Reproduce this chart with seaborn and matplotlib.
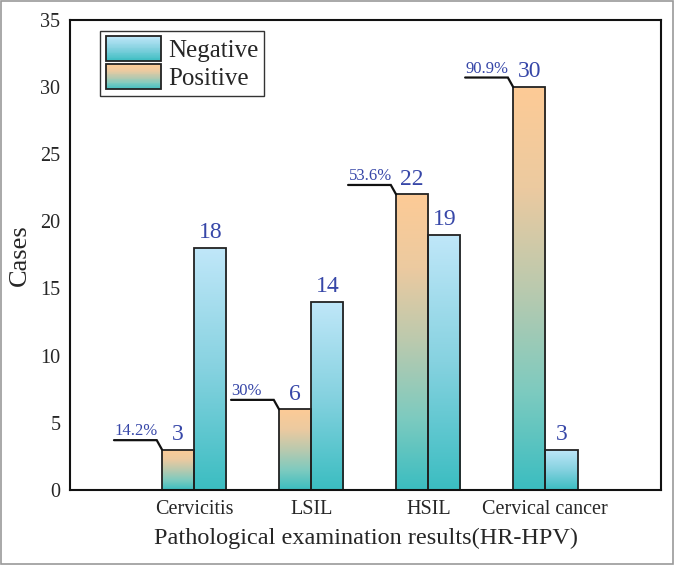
import numpy as np
import pandas as pd
import matplotlib
matplotlib.use("Agg")
import matplotlib.pyplot as plt
from matplotlib.colors import LinearSegmentedColormap
from matplotlib.legend_handler import HandlerBase
from matplotlib.patches import Rectangle
import seaborn as sns

# Data
categories = ["Cervicitis", "LSIL", "HSIL", "Cervical cancer"]
positive = [3, 6, 22, 30]
negative = [18, 14, 19, 3]
percent_labels = ["14.2%", "30%", "53.6%", "90.9%"]

df = pd.DataFrame({
    "group": categories * 2,
    "result": ["Positive"] * 4 + ["Negative"] * 4,
    "cases": positive + negative,
})

# Gradient colormaps (bottom -> top)
teal = "#3bbdc1"
pos_cmap = LinearSegmentedColormap.from_list(
    "pos", [teal, "#7fcbbf", "#bac9ae", "#eccaa0", "#fdcb96"])
neg_cmap = LinearSegmentedColormap.from_list(
    "neg", [teal, "#86d2e0", "#c0e7f9"])
cmaps = {"Positive": pos_cmap, "Negative": neg_cmap}
label_blue = "#3747a8"

sns.set_style("white")
plt.rcParams["font.family"] = ["Liberation Serif", "DejaVu Serif"]

fig = plt.figure(figsize=(6.74, 5.65), dpi=100)
ax = fig.add_axes([0.104, 0.133, 0.877, 0.832])

hue_order = ["Positive", "Negative"]
sns.barplot(data=df, x="group", y="cases", hue="result", hue_order=hue_order,
            order=categories, width=0.55, gap=0, ax=ax, legend=False,
            edgecolor="#222222", linewidth=1.3)

grad = np.linspace(0, 1, 256).reshape(-1, 1)
for level, container in zip(hue_order, ax.containers):
    for bar in container:
        x0, y0 = bar.get_x(), bar.get_y()
        w, h = bar.get_width(), bar.get_height()
        img = ax.imshow(grad, extent=[x0, x0 + w, y0, y0 + h], origin="lower",
                        aspect="auto", cmap=cmaps[level], zorder=bar.get_zorder() - 0.1)
        img.set_clip_path(bar)
        bar.set_facecolor("none")

# value labels
for container in ax.containers:
    for bar in container:
        h = bar.get_height()
        ax.text(bar.get_x() + bar.get_width() / 2, h + 0.35, f"{h:.0f}",
                ha="center", va="bottom", fontsize=17, color=label_blue)

# percentage call-outs on the positive bars
for bar, pct in zip(ax.containers[0], percent_labels):
    xl, h = bar.get_x(), bar.get_height()
    ly = h + 0.7
    ax.plot([xl - 0.41, xl - 0.045, xl], [ly, ly, h], color="#111111",
            lw=1.6, solid_joinstyle="miter", clip_on=False, zorder=5)
    ax.text(xl - 0.405, ly + 0.05, pct, ha="left", va="bottom",
            fontsize=12, color=label_blue)

ax.set_xlim(-1.06, 3.99)
ax.set_ylim(0, 35)
ax.set_yticks(range(0, 36, 5))
ax.tick_params(length=0, labelsize=14.5, pad=7)
ax.set_xlabel("Pathological examination results(HR-HPV)", fontsize=17.5, labelpad=7)
ax.set_ylabel("Cases", fontsize=19, labelpad=7)
for s in ax.spines.values():
    s.set_visible(True)
    s.set_color("#111111")
    s.set_linewidth(1.5)


class GradientHandler(HandlerBase):
    def __init__(self, cmap):
        super().__init__()
        self.cmap = cmap

    def create_artists(self, legend, orig_handle, xdescent, ydescent,
                       width, height, fontsize, trans):
        arts = []
        n = 30
        for i in range(n):
            arts.append(Rectangle((-xdescent, -ydescent + height * i / n), width,
                                  height / n + 0.3, facecolor=self.cmap((i + 0.5) / n),
                                  edgecolor="none", transform=trans))
        arts.append(Rectangle((-xdescent, -ydescent), width, height,
                              facecolor="none", edgecolor="#222222", lw=1.3,
                              transform=trans))
        return arts


h_neg = Rectangle((0, 0), 1, 1)
h_pos = Rectangle((0, 0), 1, 1)
leg = ax.legend([h_neg, h_pos], ["Negative", "Positive"],
                handler_map={h_neg: GradientHandler(neg_cmap),
                             h_pos: GradientHandler(pos_cmap)},
                loc="upper left", bbox_to_anchor=(0.051, 0.977), borderaxespad=0,
                fontsize=18, handlelength=2.2, handleheight=1.15,
                labelspacing=0.1, handletextpad=0.3, borderpad=0.22,
                fancybox=False, framealpha=1, edgecolor="#333333")
leg.get_frame().set_linewidth(1.0)

fig.patches.append(Rectangle((0.001, 0.001), 0.997, 0.997, transform=fig.transFigure,
                             fill=False, edgecolor="#9a9a9a", lw=1.2))

fig.savefig("out.png", dpi=100)
